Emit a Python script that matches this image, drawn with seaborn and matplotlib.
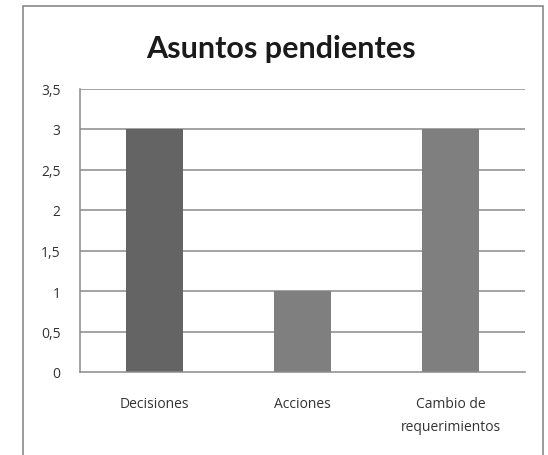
import matplotlib
matplotlib.use("Agg")
import matplotlib.pyplot as plt
from matplotlib.patches import Rectangle
from matplotlib.ticker import FixedLocator
import seaborn as sns
import pandas as pd

categories = ["Decisiones", "Acciones", "Cambio de\nrequerimientos"]
values = [3, 1, 3]
bar_colors = ["#646464", "#7f7f7f", "#7f7f7f"]
y_ticks = [0, 0.5, 1, 1.5, 2, 2.5, 3, 3.5]
y_tick_labels = ["0", "0,5", "1", "1,5", "2", "2,5", "3", "3,5"]
title = "Asuntos pendientes"

sns.set_theme(style="white")
plt.rcParams["font.family"] = ["Open Sans", "DejaVu Sans"]

df = pd.DataFrame({"cat": categories, "val": values})

fig = plt.figure(figsize=(5.48, 4.56), dpi=100)
fig.patch.set_facecolor("white")
ax = fig.add_axes([80 / 548, 1 - 373 / 456, (525 - 80) / 548, (373 - 89.5) / 456])

grid_c = "#8a8a8a"
for yv in y_ticks[1:]:
    ax.axhline(yv, color=grid_c, lw=1.1, zorder=0)

sns.barplot(data=df, x="cat", y="val", hue="cat", palette=bar_colors,
            width=0.385, legend=False, ax=ax, saturation=1, zorder=2,
            linewidth=0)

ax.set_xlim(-0.5, 2.5)
ax.set_ylim(0, 3.5)
ax.set_yticks(y_ticks)
ax.set_yticklabels(y_tick_labels)
ax.set_xlabel("")
ax.set_ylabel("")
ax.xaxis.set_minor_locator(FixedLocator([0.5, 1.5, 2.5]))
ax.tick_params(axis="x", which="major", length=0, pad=17, labelsize=10, colors="#333333")
ax.tick_params(axis="x", which="minor", length=4, width=1, color=grid_c, direction="out")
ax.tick_params(axis="y", length=6, width=1, color=grid_c, direction="out",
               labelsize=10, labelcolor="#333333", pad=8)
for lbl in ax.get_xticklabels():
    lbl.set_linespacing(1.75)
    lbl.set_verticalalignment("top")

for s in ["top", "right"]:
    ax.spines[s].set_visible(False)
for s in ["left", "bottom"]:
    ax.spines[s].set_color(grid_c)
    ax.spines[s].set_linewidth(1.1)

fig.text(281 / 548, 1 - 58 / 456, title, ha="center", va="baseline",
         fontsize=22, fontweight="bold", color="#1a1a1a", family=["Lato", "DejaVu Sans"])

fig.patches.append(Rectangle((23 / 548, -0.05), (543 - 23) / 548, 1.05 - 7 / 456,
                             transform=fig.transFigure, fill=False,
                             edgecolor="#8a8a8a", lw=1.2))

fig.savefig("out.png", dpi=100, facecolor="white")
